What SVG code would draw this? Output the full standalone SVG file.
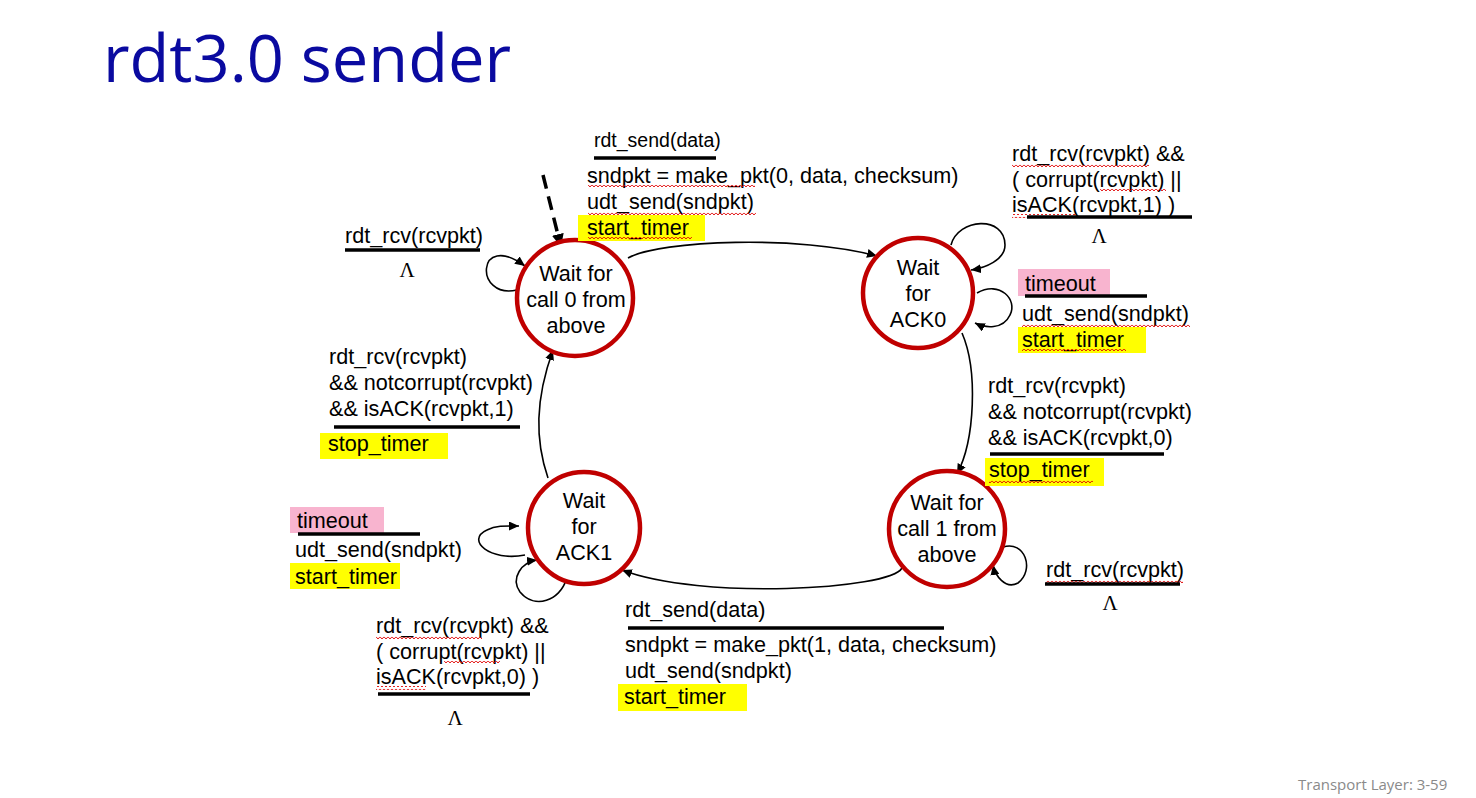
<svg xmlns="http://www.w3.org/2000/svg" width="1476" height="798" viewBox="0 0 1476 798">
<style>
.t{font-family:"Liberation Sans",Arial,sans-serif;font-size:21.6px;fill:#000}
.c{font-family:"Liberation Sans",Arial,sans-serif;font-size:21.6px;fill:#000;text-anchor:middle}
.lam{font-family:"Liberation Serif","Times New Roman",serif;font-size:21px;fill:#000;text-anchor:middle}
.st{fill:#fff;stroke:#C00000;stroke-width:4.5}
.ul{stroke:#000;stroke-width:3.5}
.yl{fill:#FFFF00}
.pk{fill:#F8B4CF}
.sq{fill:url(#squig)}
.cn{fill:none;stroke:#000;stroke-width:1.6;marker-end:url(#ah)}
</style>
<defs>
<marker id="ah" markerUnits="userSpaceOnUse" markerWidth="11" markerHeight="9" refX="10" refY="4.5" orient="auto"><path d="M0,0 L10,4.5 L0,9 z" fill="#000"/></marker>
<marker id="ahb" markerUnits="userSpaceOnUse" markerWidth="14" markerHeight="12" refX="13" refY="6" orient="auto"><path d="M0,0 L13,6 L0,12 z" fill="#000"/></marker>
<pattern id="squig" patternUnits="userSpaceOnUse" width="4" height="4"><path d="M0,0.8 L2,3 L4,0.8" fill="none" stroke="#E00000" stroke-width="0.9"/></pattern>
</defs>
<rect width="1476" height="798" fill="#fff"/>
<text x="103" y="82" font-family="Open Sans, Liberation Sans, sans-serif" font-size="65" fill="#0A0AA0">rdt3.0 sender</text>
<text x="1298" y="790" font-family="Open Sans, Liberation Sans, sans-serif" font-size="15" fill="#8A8A8A">Transport Layer: 3-59</text>

<g id="connectors">
<path d="M543,175 L561,247" fill="none" stroke="#000" stroke-width="3.5" stroke-dasharray="14,8" marker-end="url(#ahb)"/>
<path class="cn" d="M517,290 C474,300 476,230 525,266"/>
<path class="cn" d="M628,258 C660,240 800,235 877,256"/>
<path class="cn" d="M951,245 C958,218 1005,215 1005,245 C1005,260 985,268 971,270"/>
<path class="cn" d="M977,293 C1000,280 1018,300 1010,315 C1003,330 985,328 975,323"/>
<path class="cn" d="M962,333 C978,370 975,440 957,474"/>
<path class="cn" d="M1003,547 C1025,540 1035,570 1018,583 C1005,590 995,575 993,565"/>
<path class="cn" d="M902,568 C890,590 700,600 622,570"/>
<path class="cn" d="M525,555 C490,562 465,540 487,530 C497,525 508,526 519,526"/>
<path class="cn" d="M566,580 C560,600 535,610 520,592 C510,578 522,562 537,560"/>
<path class="cn" d="M548,478 C535,440 535,400 553,350"/>
</g>

<g id="s0">
<circle class="st" cx="575" cy="298" r="58"/>
<text class="c" x="576" y="281">Wait for</text>
<text class="c" x="576" y="307">call 0 from</text>
<text class="c" x="576" y="333">above</text>
</g>
<g id="s1">
<circle class="st" cx="918" cy="293" r="55"/>
<text class="c" x="918" y="275">Wait</text>
<text class="c" x="918" y="301">for</text>
<text class="c" x="918" y="327">ACK0</text>
</g>
<g id="s2">
<circle class="st" cx="584" cy="528" r="56"/>
<text class="c" x="584" y="508">Wait</text>
<text class="c" x="584" y="534">for</text>
<text class="c" x="584" y="560">ACK1</text>
</g>
<g id="s3">
<circle class="st" cx="947" cy="529" r="58"/>
<text class="c" x="947" y="510">Wait for</text>
<text class="c" x="947" y="536">call 1 from</text>
<text class="c" x="947" y="562">above</text>
</g>

<g id="label-s0-s1">
<text class="t" x="594" y="147" style="font-size:19.5px">rdt_send(data)</text>
<line class="ul" x1="594" y1="158" x2="716" y2="158"/>
<rect class="yl" x="578" y="215" width="127" height="26"/>
<text class="t" x="587" y="183">sndpkt = make_pkt(0, data, checksum)</text>
<text class="t" x="587" y="209">udt_send(sndpkt)</text>
<text class="t" x="587" y="235">start_timer</text>
<rect class="sq" x="588" y="185" width="167" height="4"/>
<rect class="sq" x="588" y="211" width="168" height="4"/>
<rect class="sq" x="588" y="237" width="104" height="4"/>
</g>

<g id="label-s0-loop">
<text class="t" x="345" y="243">rdt_rcv(rcvpkt)</text>
<line class="ul" x1="345" y1="250" x2="480" y2="250"/>
<text class="lam" x="407" y="277">Λ</text>
</g>

<g id="label-s1-loop-top">
<text class="t" x="1012" y="161">rdt_rcv(rcvpkt) &amp;&amp;</text>
<text class="t" x="1012" y="187">( corrupt(rcvpkt) ||</text>
<text class="t" x="1012" y="212">isACK(rcvpkt,1) )</text>
<rect class="sq" x="1012" y="163" width="137" height="4"/>
<rect class="sq" x="1100" y="189" width="66" height="4"/>
<rect class="sq" x="1012" y="214" width="64" height="4"/>
<line class="ul" x1="1027" y1="217" x2="1192" y2="217"/>
<text class="lam" x="1099" y="243">Λ</text>
</g>

<g id="label-s1-timeout">
<rect class="pk" x="1018" y="269" width="92" height="27"/>
<text class="t" x="1025" y="291">timeout</text>
<line class="ul" x1="1025" y1="296" x2="1147" y2="296"/>
<text class="t" x="1022" y="321">udt_send(sndpkt)</text>
<rect class="yl" x="1018" y="327" width="128" height="26"/>
<text class="t" x="1022" y="347">start_timer</text>
<rect class="sq" x="1022" y="323" width="168" height="4"/>
<rect class="sq" x="1022" y="349" width="104" height="4"/>
</g>

<g id="label-s1-s3">
<text class="t" x="988" y="393">rdt_rcv(rcvpkt)</text>
<text class="t" x="988" y="419">&amp;&amp; notcorrupt(rcvpkt)</text>
<text class="t" x="988" y="445">&amp;&amp; isACK(rcvpkt,0)</text>
<line class="ul" x1="990" y1="454" x2="1164" y2="454"/>
<rect class="yl" x="985" y="458" width="119" height="28"/>
<text class="t" x="989" y="477">stop_timer</text>
<rect class="sq" x="989" y="479" width="104" height="4"/>
</g>

<g id="label-s3-loop">
<text class="t" x="1046" y="577">rdt_rcv(rcvpkt)</text>
<rect class="sq" x="1046" y="579" width="137" height="4"/>
<line class="ul" x1="1045" y1="584" x2="1180" y2="584"/>
<text class="lam" x="1110" y="610">Λ</text>
</g>

<g id="label-s3-s2">
<text class="t" x="625" y="617">rdt_send(data)</text>
<line class="ul" x1="628" y1="628" x2="944" y2="628"/>
<text class="t" x="625" y="652">sndpkt = make_pkt(1, data, checksum)</text>
<text class="t" x="625" y="678">udt_send(sndpkt)</text>
<rect class="yl" x="618" y="684" width="129" height="27"/>
<text class="t" x="624" y="704">start_timer</text>
</g>

<g id="label-s2-timeout">
<rect class="pk" x="290" y="507" width="94" height="26"/>
<text class="t" x="297" y="528">timeout</text>
<line class="ul" x1="298" y1="534" x2="420" y2="534"/>
<text class="t" x="295" y="557">udt_send(sndpkt)</text>
<rect class="yl" x="290" y="563" width="110" height="26"/>
<text class="t" x="295" y="584">start_timer</text>
</g>

<g id="label-s2-loop">
<text class="t" x="376" y="633">rdt_rcv(rcvpkt) &amp;&amp;</text>
<text class="t" x="376" y="659">( corrupt(rcvpkt) ||</text>
<text class="t" x="376" y="684">isACK(rcvpkt,0) )</text>
<rect class="sq" x="376" y="635" width="106" height="4"/>
<rect class="sq" x="444" y="661" width="56" height="4"/>
<rect class="sq" x="376" y="686" width="50" height="4"/>
<line class="ul" x1="378" y1="694" x2="530" y2="694"/>
<text class="lam" x="455" y="725">Λ</text>
</g>

<g id="label-s2-s0">
<text class="t" x="329" y="364">rdt_rcv(rcvpkt)</text>
<text class="t" x="329" y="390">&amp;&amp; notcorrupt(rcvpkt)</text>
<text class="t" x="329" y="416">&amp;&amp; isACK(rcvpkt,1)</text>
<line class="ul" x1="334" y1="427" x2="520" y2="427"/>
<rect class="yl" x="320" y="433" width="128" height="26"/>
<text class="t" x="328" y="451">stop_timer</text>
</g>
</svg>
